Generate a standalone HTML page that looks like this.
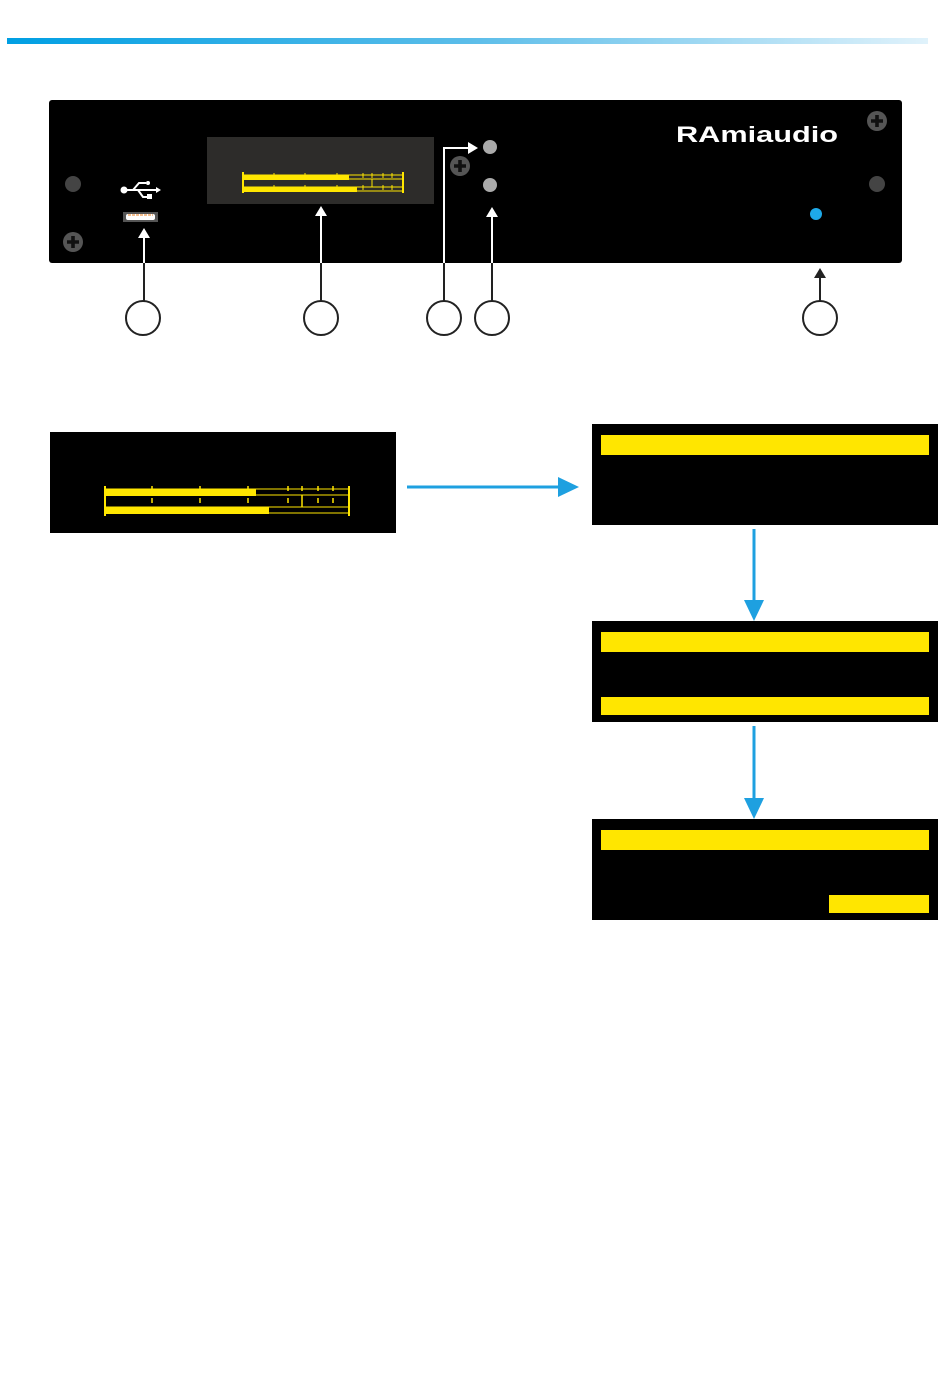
<!DOCTYPE html>
<html><head><style>html,body{margin:0;padding:0;background:#fff}svg{display:block}</style></head><body>
<svg width="950" height="1374" viewBox="0 0 950 1374" xmlns="http://www.w3.org/2000/svg" font-family="Liberation Sans, sans-serif">
<defs>
<linearGradient id="g" x1="0" x2="1"><stop offset="0" stop-color="#009fe3"/><stop offset="0.5" stop-color="#5bbde9"/><stop offset="1" stop-color="#e0f2fb"/></linearGradient>
<g id="screw"><circle r="10" fill="#555"/><path d="M-6 -1.8h12v3.6h-12zM-1.8 -6h3.6v12h-3.6z" fill="#111"/></g>
</defs>
<rect x="7" y="38" width="921" height="6" fill="url(#g)"/>
<rect x="49" y="100" width="853" height="163" rx="3" fill="#000"/>
<circle cx="73" cy="184" r="8" fill="#444"/>
<circle cx="877" cy="184" r="8" fill="#444"/>
<use href="#screw" x="73" y="242"/>
<use href="#screw" x="460" y="166"/>
<use href="#screw" x="877" y="121"/>
<g fill="#fff" stroke="#fff">
<circle cx="124" cy="190" r="3.5" stroke="none"/>
<line x1="124" y1="190" x2="156" y2="190" stroke-width="2"/>
<path d="M156 187l5 3-5 3z" stroke="none"/>
<polyline points="133,190 139,183 146,183" fill="none" stroke-width="2"/>
<circle cx="148" cy="183" r="2" stroke="none"/>
<polyline points="138,190 143,197 147,197" fill="none" stroke-width="2"/>
<rect x="147" y="194" width="5" height="5" stroke="none"/>
</g>
<rect x="123" y="212" width="35" height="10" fill="#555"/>
<rect x="126" y="214" width="29" height="6" rx="2" fill="#fff"/>
<line x1="128" y1="215" x2="153" y2="215" stroke="#e87d1e" stroke-width="1" stroke-dasharray="3 1"/>
<rect x="207" y="137" width="227" height="67" fill="#2d2c2a"/>
<g stroke="#ffe600" fill="none">
<rect x="243" y="175" width="160" height="4" stroke-width="1"/>
<rect x="243" y="187" width="160" height="4" stroke-width="1"/>
<line x1="243" y1="172" x2="243" y2="193" stroke-width="2"/>
<line x1="403" y1="172" x2="403" y2="193" stroke-width="2"/>
<path d="M274 173v5M305 173v5M337 173v5M363 173v5M372 173v5M383 173v5M392 173v5M274 185v5M305 185v5M337 185v5M363 185v5M383 185v5M392 185v5M372 179v8" stroke-width="1"/>
</g>
<rect x="243" y="175" width="106" height="5" fill="#ffe600"/>
<rect x="243" y="187" width="114" height="5" fill="#ffe600"/>
<circle cx="490" cy="147" r="7" fill="#aaa"/>
<circle cx="490" cy="185" r="7" fill="#aaa"/>
<text x="676" y="142" font-size="22" font-weight="bold" fill="#fff" textLength="162" lengthAdjust="spacingAndGlyphs">RAmiaudio</text>
<circle cx="816" cy="214" r="6" fill="#1ea9e8"/>
<g stroke="#fff" stroke-width="2" fill="none">
<line x1="144" y1="237" x2="144" y2="263"/>
<line x1="321" y1="214" x2="321" y2="263"/>
<polyline points="444,263 444,148 468,148"/>
<line x1="492" y1="215" x2="492" y2="263"/>
</g>
<g fill="#fff"><path d="M138 238l6-10 6 10z"/><path d="M315 216l6-10 6 10z"/><path d="M468 142l10 6-10 6z"/><path d="M486 217l6-10 6 10z"/></g>
<g stroke="#222" stroke-width="2" fill="none">
<line x1="144" y1="263" x2="144" y2="301"/>
<line x1="321" y1="263" x2="321" y2="301"/>
<line x1="444" y1="263" x2="444" y2="301"/>
<line x1="492" y1="263" x2="492" y2="301"/>
<line x1="820" y1="275" x2="820" y2="301"/>
<circle cx="143" cy="318" r="17"/><circle cx="321" cy="318" r="17"/><circle cx="444" cy="318" r="17"/><circle cx="492" cy="318" r="17"/><circle cx="820" cy="318" r="17"/>
</g>
<path d="M814 278l6-10 6 10z" fill="#222"/>
<rect x="50" y="432" width="346" height="101" fill="#000"/>
<g stroke="#ffe600" fill="none">
<rect x="105" y="489" width="244" height="6" stroke-width="1"/>
<rect x="105" y="507" width="244" height="6" stroke-width="1"/>
<line x1="105" y1="486" x2="105" y2="516" stroke-width="2"/>
<line x1="349" y1="486" x2="349" y2="516" stroke-width="2"/>
<path d="M152 486v5M200 486v5M248 486v5M288 486v5M302 486v5M318 486v5M333 486v5M152 498v5M200 498v5M248 498v5M288 498v5M318 498v5M333 498v5M302 495v12" stroke-width="1.5"/>
</g>
<rect x="105" y="489" width="151" height="7" fill="#ffe600"/>
<rect x="105" y="507" width="164" height="7" fill="#ffe600"/>
<line x1="407" y1="487" x2="560" y2="487" stroke="#1ea0e0" stroke-width="3"/>
<path d="M558 477l21 10-21 10z" fill="#1ea0e0"/>
<line x1="754" y1="529" x2="754" y2="602" stroke="#1ea0e0" stroke-width="3"/>
<path d="M744 600l10 21 10-21z" fill="#1ea0e0"/>
<line x1="754" y1="726" x2="754" y2="800" stroke="#1ea0e0" stroke-width="3"/>
<path d="M744 798l10 21 10-21z" fill="#1ea0e0"/>
<rect x="592" y="424" width="346" height="101" fill="#000"/>
<rect x="601" y="435" width="328" height="20" fill="#ffe600"/>
<rect x="592" y="621" width="346" height="101" fill="#000"/>
<rect x="601" y="632" width="328" height="20" fill="#ffe600"/>
<rect x="601" y="697" width="328" height="18" fill="#ffe600"/>
<rect x="592" y="819" width="346" height="101" fill="#000"/>
<rect x="601" y="830" width="328" height="20" fill="#ffe600"/>
<rect x="829" y="895" width="100" height="18" fill="#ffe600"/>
</svg>
</body></html>
